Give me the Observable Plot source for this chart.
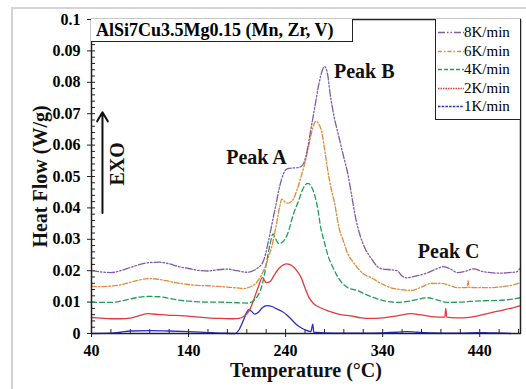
<!DOCTYPE html>
<html><head><meta charset="utf-8">
<script src="https://cdn.jsdelivr.net/npm/d3@7"></script>
<script src="https://cdn.jsdelivr.net/npm/@observablehq/plot@0.6"></script>
<style>
body{margin:0;background:#fff;}
#wrap{position:relative;width:526px;height:389px;overflow:hidden;font-family:"Liberation Serif","Times New Roman",serif;background:#fff;}
#border{position:absolute;left:11px;top:7px;width:700px;height:600px;border-top:2px solid #d4d4d4;border-left:2px solid #d4d4d4;}
#chart{position:absolute;left:0;top:0;}
#title{position:absolute;left:91px;top:19px;width:262px;height:23px;border:1.5px solid #222;border-left:none;border-top:none;background:#fff;font-weight:bold;font-size:18px;line-height:23px;padding-left:5px;box-sizing:border-box;white-space:nowrap;}
#legend{position:absolute;left:435px;top:19px;width:85px;height:101px;border:1.5px solid #222;border-top:none;border-right:none;background:#fff;box-sizing:border-box;font-size:15px;}
.row{position:absolute;left:0;height:18px;line-height:18px;white-space:nowrap;}
.row svg{position:absolute;left:2px;top:8px;}
.row span{position:absolute;left:28px;top:0;}
</style></head>
<body><div id="wrap"><div id="border"></div><div id="chart"></div><div id="title">AlSi7Cu3.5Mg0.15 (Mn, Zr, V)</div><div id="legend"></div></div>
<script>
// ---- data ----
const T8 = [40,50,60,70,80,90,100,110,120,130,140,150,160,170,180,190,200,205,210,217,222,226,230,234,238,242,247,252,256,259,262,266,270,274,278,280,283,286,290,295,300,304,308,312,316,322,328,334,340,348,355,360,365,370,376,385,395,403,410,417,425,434,442,451,460,470,478,482];
const Y8 = [0.0200,0.0196,0.0194,0.0200,0.0210,0.0220,0.0226,0.0227,0.0222,0.0213,0.0207,0.0201,0.0199,0.0203,0.0205,0.0200,0.0195,0.0198,0.0206,0.0230,0.0290,0.0350,0.0410,0.0470,0.0510,0.0525,0.0527,0.0528,0.0532,0.0545,0.0580,0.0650,0.0720,0.0790,0.0840,0.0850,0.0830,0.0760,0.0690,0.0625,0.0560,0.0510,0.0440,0.0370,0.0320,0.0270,0.0240,0.0215,0.0205,0.0203,0.0200,0.0183,0.0177,0.0180,0.0184,0.0192,0.0205,0.0213,0.0205,0.0194,0.0198,0.0206,0.0198,0.0194,0.0192,0.0194,0.0196,0.0210];

const T6 = [40,50,60,70,80,90,100,110,120,130,140,150,160,170,180,190,197,203,209,214,218,222,226,230,234,236,239,242,245,248,252,256,260,264,268,271,274,277,280,283,287,290,295,300,304,309,314,320,328,338,348,358,369,380,389,400,410,417,427,428,429,440,451,465,475,482];
const Y6 = [0.0150,0.0149,0.0151,0.0155,0.0163,0.0171,0.0175,0.0172,0.0166,0.0160,0.0156,0.0153,0.0152,0.0150,0.0148,0.0145,0.0143,0.0148,0.0159,0.0180,0.0205,0.0240,0.0280,0.0340,0.0405,0.0428,0.0420,0.0415,0.0418,0.0428,0.0460,0.0500,0.0545,0.0600,0.0655,0.0676,0.0668,0.0645,0.0590,0.0527,0.0460,0.0422,0.0337,0.0290,0.0254,0.0230,0.0210,0.0190,0.0178,0.0160,0.0146,0.0140,0.0137,0.0148,0.0159,0.0160,0.0152,0.0146,0.0147,0.0168,0.0147,0.0146,0.0146,0.0150,0.0155,0.0162];

const T4 = [40,50,60,70,80,90,100,110,120,130,140,150,160,170,180,190,200,205,210,214,218,221,224,227,230,233,237,242,248,253,258,263,267,270,273,276,280,284,288,292,297,303,310,314,320,330,338,345,355,365,375,386,395,407,420,430,441,455,470,482];
const Y4 = [0.0100,0.0099,0.0099,0.0103,0.0110,0.0116,0.0118,0.0117,0.0112,0.0106,0.0103,0.0101,0.0100,0.0100,0.0099,0.0098,0.0097,0.0100,0.0115,0.0137,0.0185,0.0238,0.0285,0.0317,0.0300,0.0286,0.0292,0.0317,0.0380,0.0420,0.0462,0.0478,0.0465,0.0440,0.0400,0.0340,0.0290,0.0245,0.0215,0.0190,0.0165,0.0148,0.0140,0.0137,0.0128,0.0115,0.0107,0.0102,0.0099,0.0102,0.0108,0.0114,0.0108,0.0099,0.0100,0.0102,0.0104,0.0105,0.0108,0.0114];

const T2 = [40,50,60,70,80,90,98,110,120,132,145,160,175,186,192,197,203,208,212,216,220,224,228,234,241,247,252,256,260,264,269,276,283,290,297,307,318,328,340,355,369,380,390,404,405,406,415,424,438,451,465,482];
const Y2 = [0.0051,0.0049,0.0047,0.0047,0.0049,0.0058,0.0063,0.0060,0.0058,0.0057,0.0054,0.0050,0.0048,0.0047,0.0048,0.0055,0.0075,0.0115,0.0150,0.0178,0.0162,0.0165,0.0185,0.0210,0.0222,0.0215,0.0198,0.0178,0.0145,0.0115,0.0095,0.0082,0.0073,0.0066,0.0060,0.0056,0.0050,0.0048,0.0050,0.0056,0.0063,0.0059,0.0054,0.0052,0.0080,0.0052,0.0050,0.0050,0.0056,0.0066,0.0075,0.0089];

const T1 = [40,60,70,80,100,120,140,160,175,188,192,196,200,202,205,208,212,216,221,226,231,236,241,245,250,255,260,266,268,269,280,300,320,340,355,365,375,390,420,438,450,465,472];
const Y1 = [0.0000,0.0001,0.0004,0.0008,0.0009,0.0008,0.0006,0.0003,0.0001,0.0000,0.0012,0.0038,0.0068,0.0076,0.0070,0.0062,0.0068,0.0082,0.0089,0.0086,0.0078,0.0071,0.0060,0.0048,0.0032,0.0020,0.0012,0.0006,0.0030,0.0004,0.0002,0.0001,0.0001,0.0002,0.0004,0.0006,0.0004,0.0002,0.0001,0.0003,0.0002,0.0001,0.0000];

const seriesNames = ["8K/min","6K/min","4K/min","2K/min","1K/min"];
const xTicks = [40,140,240,340,440];
const yTicks = [0,0.01,0.02,0.03,0.04,0.05,0.06,0.07,0.08,0.09,0.1];
const peakLabels = ["Peak A","Peak B","Peak C"];

// ---- styles ----
const styles = {
  "8K/min": {color:"#7d5ba6", dash:"7,2,1.5,2,1.5,2", legendDash:"7,2,1.5,2,1.5,2"},
  "6K/min": {color:"#e3883a", dash:"5,2,1.5,2", legendDash:"4,2,1.5,2"},
  "4K/min": {color:"#1f9e57", dash:"5,3", legendDash:"4,2"},
  "2K/min": {color:"#e03a3a", dash:null, legendDash:"1.5,1"},
  "1K/min": {color:"#2530c8", dash:null, legendDash:"2.5,1.2"}
};
const raw = {"8K/min":[T8,Y8],"6K/min":[T6,Y6],"4K/min":[T4,Y4],"2K/min":[T2,Y2],"1K/min":[T1,Y1]};
const rows = seriesNames.flatMap(s => raw[s][0].map((t,i)=>({T:t, v:raw[s][1][i], s})));

const annot = [
  {x:210, y:0.0559, text:peakLabels[0]},
  {x:321, y:0.0835, text:peakLabels[1]},
  {x:408, y:0.0262, text:peakLabels[2]}
];
const fmt = d => d === 0 ? "0" : String(+d.toFixed(2));
const minorY = d3.range(0, 0.1001, 0.002).map(d => +d.toFixed(3));
const minorX = d3.range(40, 481, 20);
const font = "Liberation Serif, Times New Roman, serif";

const lines = seriesNames.slice().reverse().map(s => Plot.line(rows.filter(r => r.s === s), {
  x:"T", y:"v", stroke: styles[s].color, strokeWidth:1.3,
  strokeDasharray: styles[s].dash || undefined, curve:"monotone-x"
}));

const chart = Plot.plot({
  width:526, height:389,
  marginLeft:91, marginRight:6, marginTop:19, marginBottom:56,
  x:{domain:[40,482]},
  y:{domain:[0,0.1]},
  style:{fontFamily:font, background:"transparent", color:"#000"},
  marks:[
    Plot.axisY({ticks:minorY, tickSize:-4, tickFormat:()=>"", label:null, stroke:"#222"}),
    Plot.axisX({ticks:minorX, tickSize:-4, tickFormat:()=>"", label:null, stroke:"#222"}),
    Plot.axisY({ticks:yTicks, tickSize:4, tickPadding:7, tickFormat:fmt, label:null, fontSize:16, fontWeight:"bold", stroke:"#222"}),
    Plot.axisX({ticks:xTicks, tickSize:4, tickPadding:7, tickFormat:d=>String(d), label:null, fontSize:16, fontWeight:"bold", stroke:"#222"}),
    ...lines,
    Plot.frame({stroke:"#222", strokeWidth:1.5}),
    Plot.text(annot, {x:"x", y:"y", text:"text", fontSize:20, fontWeight:"bold", fill:"#111"}),
    Plot.text(["EXO"], {x:[67], y:[0.054], text:d=>d, rotate:-90, fontSize:20, fontWeight:"bold", fill:"#111"}),
    Plot.arrow([0], {x1:[51.3], y1:[0.0384], x2:[51.3], y2:[0.0705], stroke:"#111", strokeWidth:2, headLength:8}),
    Plot.text(["Heat Flow (W/g)"], {frameAnchor:"left", textAnchor:"middle", dx:-51, text:d=>d, rotate:-90, fontSize:20, fontWeight:"bold", fill:"#111"}),
    Plot.text(["Temperature (°C)"], {frameAnchor:"bottom", dy:43, text:d=>d, fontSize:20, fontWeight:"bold", fill:"#111"})
  ]
});
document.getElementById("chart").appendChild(chart);

// legend
const leg = document.getElementById("legend");
seriesNames.forEach((s,i) => {
  const r = document.createElement("div");
  r.className = "row";
  r.style.top = (4 + i*18.6) + "px";
  r.style.width = "83px";
  r.innerHTML = `<svg width="26" height="3"><line x1="0" y1="1.5" x2="26" y2="1.5" stroke="${styles[s].color}" stroke-width="1.3" stroke-dasharray="${styles[s].legendDash}"/></svg><span>${s}</span>`;
  leg.appendChild(r);
});
</script>
</body></html>
